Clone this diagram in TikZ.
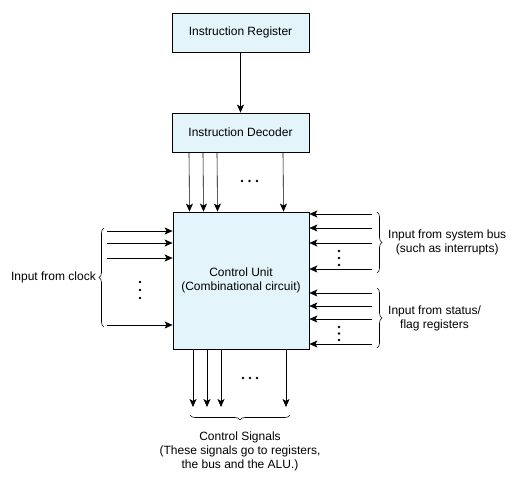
\documentclass[tikz,border=0pt]{standalone}
\usepackage{fontspec}
\setmainfont{Liberation Sans}
\usetikzlibrary{arrows.meta,decorations.pathreplacing}
\definecolor{unitblue}{RGB}{228,244,251}

\tikzset{
  unitbox/.style={draw, thick, fill=unitblue, align=center, inner sep=0pt},
  sig/.style={-{Stealth[length=8pt,width=7pt,inset=2pt]}, semithick},
  brc/.style={decorate, decoration={brace, amplitude=5pt}, semithick},
  lbl/.style={align=center, inner sep=0pt}
}

\begin{document}
\begin{tikzpicture}[x=1pt, y=-1pt, font=\fontsize{12}{14}\selectfont]
  \useasboundingbox (0,0) rectangle (521,488);
  % Registers and the unit
  \node[unitbox, minimum width=137pt, minimum height=39pt] (IR) at (240.5,32.5) {Instruction Register};
  \node[unitbox, minimum width=137pt, minimum height=39pt] (ID) at (240.5,132.5) {Instruction Decoder};
  \node[unitbox, minimum width=136pt, minimum height=137pt] (CU) at (241,280.5) {Control Unit\\(Combinational circuit)};
  \draw[sig] (IR) -- (ID);
  % Decoder outputs into the unit
  \foreach \dx in {-51.5,-37.5,-23.5,42.5} {
    \draw[sig] ([xshift=\dx pt]ID.south) -- ([xshift=\dx pt]CU.north);
  }
  % Clock inputs
  \foreach \y [count=\i] in {231,243,258,325} {
    \coordinate (clk\i) at (107,\y);
    \draw[sig] (clk\i) -- (clk\i -| CU.west);
  }
  % System bus and status inputs
  \foreach \y [count=\i] in {214,228,243,269,293,306,319,344} {
    \coordinate (in\i) at (372,\y);
    \draw[sig] (in\i) -- (in\i -| CU.east);
  }
  % Control signal outputs
  \foreach \dx [count=\i] in {-48,-34,-20,45} {
    \coordinate (out\i) at ([xshift=\dx pt]CU.south |- 0,407);
    \draw[sig] ([xshift=\dx pt]CU.south) -- (out\i);
  }
  % Dots
  \foreach \p in {(242,181),(249.5,181),(257,181),(243,378),(250,378),(257,378),
                  (140,282),(140,290),(140,298),(339,251),(339,258),(339,265),
                  (339,327),(339,333.5),(339,340)} {
    \fill \p circle (1.4pt);
  }
  % Braces
  \draw[brc] (104,327) -- (104,228) coordinate[midway, xshift=-6pt] (clkb);
  \draw[brc] (377,212) -- (377,273) coordinate[midway, xshift=6pt] (busb);
  \draw[brc] (377,288) -- (377,348) coordinate[midway, xshift=6pt] (flagb);
  \draw[brc] (290,415) -- (190,415) coordinate[midway, yshift=-6pt] (outb);
  % Labels
  \node[lbl, anchor=east] (clkl) at ([xshift=-2pt]clkb) {Input from clock};
  \node[lbl, anchor=west] (busl) at ([xshift=5pt]busb) {Input from system bus\\(such as interrupts)};
  \node[lbl, anchor=west] (flagl) at ([xshift=5pt]flagb) {Input from status/\\flag registers};
  \node[lbl, anchor=north] (outl) at ([yshift=-11pt]outb) {Control Signals\\(These signals go to registers,\\the bus and the ALU.)};
\end{tikzpicture}
\end{document}
